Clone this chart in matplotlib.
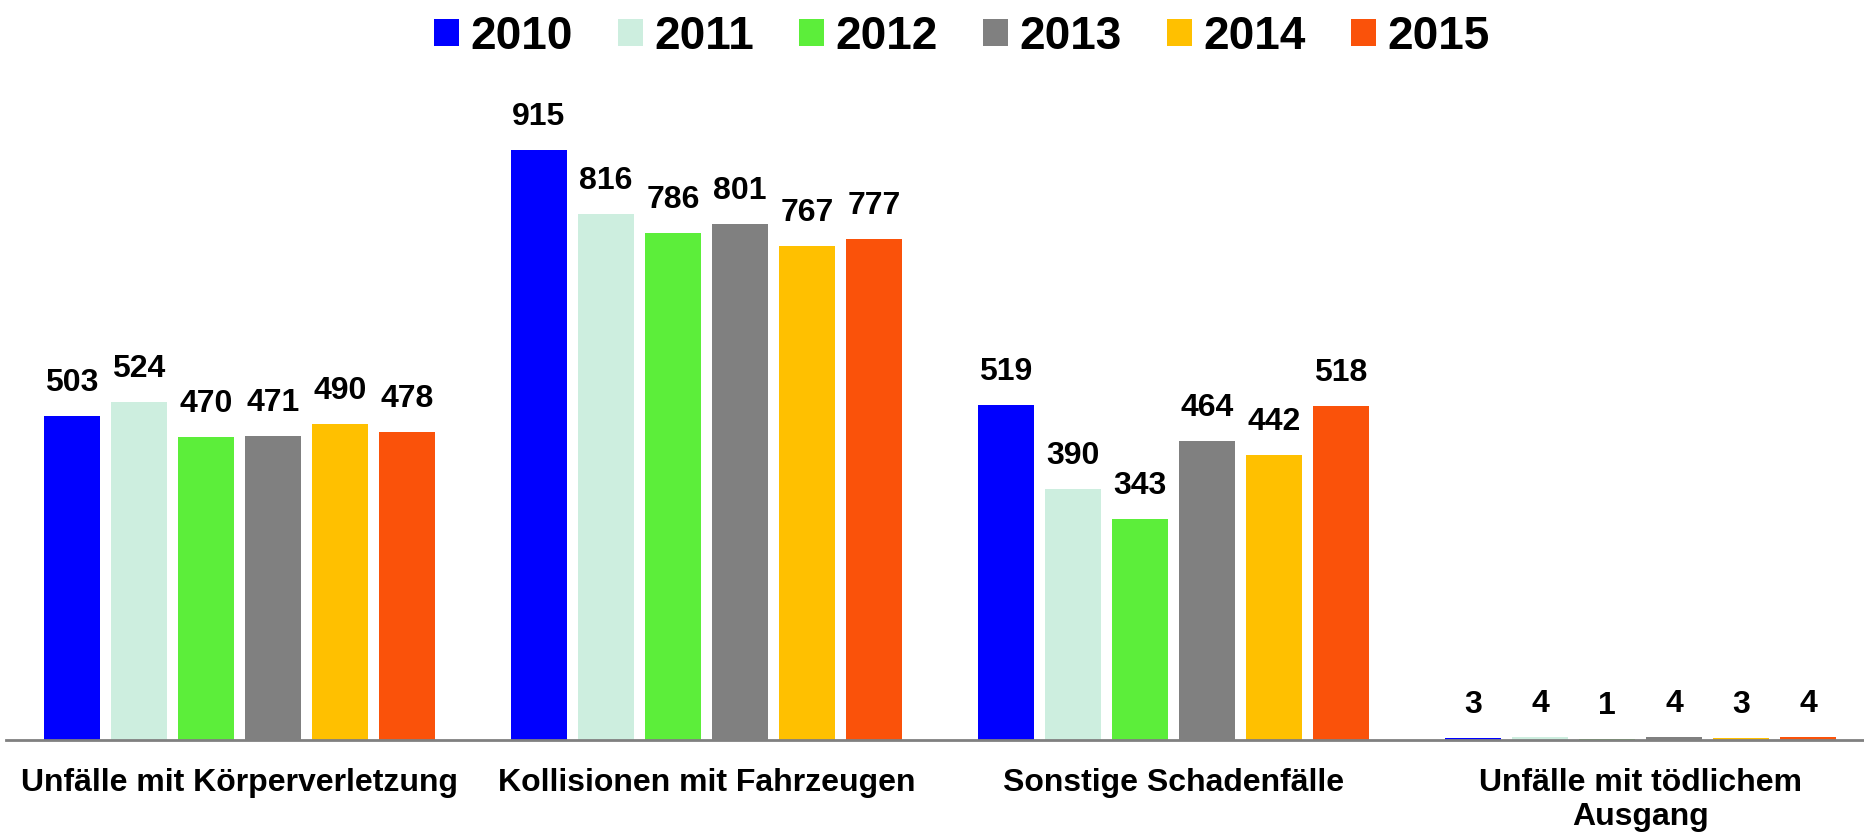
import numpy as np
import matplotlib.pyplot as plt

plt.rcParams['font.family'] = ['Liberation Sans', 'DejaVu Sans']
plt.rcParams['font.weight'] = 'bold'

categories = ["Unfälle mit Körperverletzung", "Kollisionen mit Fahrzeugen",
              "Sonstige Schadenfälle", "Unfälle mit tödlichem\nAusgang"]
years = ["2010", "2011", "2012", "2013", "2014", "2015"]
v2010 = [503, 915, 519, 3]
v2011 = [524, 816, 390, 4]
v2012 = [470, 786, 343, 1]
v2013 = [471, 801, 464, 4]
v2014 = [490, 767, 442, 3]
v2015 = [478, 777, 518, 4]
series = [v2010, v2011, v2012, v2013, v2014, v2015]
colors = ["#0000FF", "#CDEEDF", "#5CEE3A", "#808080", "#FFC000", "#FA520A"]

fig = plt.figure(figsize=(18.64, 8.34), dpi=100)
ax = fig.add_axes([6/1864, 94/834, 1868/1864, 660/834])

x = np.arange(len(categories))
step = 0.1435
width = 0.12
for i, (vals, yr, c) in enumerate(zip(series, years, colors)):
    pos = x + (i - 2.5) * step
    bars = ax.bar(pos, vals, width, color=c, label=yr)
    for b, v in zip(bars, vals):
        ax.annotate(str(v), (b.get_x() + b.get_width() / 2, v),
                    xytext=(0, 13), textcoords="offset points",
                    ha="center", va="bottom", fontsize=23, fontweight="bold")

ax.set_xlim(-0.5, 3.5)
ax.set_ylim(0, 1024)
ax.set_xticks(x)
ax.set_xticklabels(categories, fontsize=23, fontweight="bold")
ax.tick_params(axis="x", length=0, pad=20)
ax.set_yticks([])
for s in ["top", "right", "left"]:
    ax.spines[s].set_visible(False)
ax.spines["bottom"].set_color("#808080")
ax.spines["bottom"].set_linewidth(2)

fig.legend(loc="upper center", bbox_to_anchor=(0.516, 1.032), ncol=6,
           frameon=False, prop={"size": 33, "weight": "bold"},
           handlelength=0.55, handleheight=0.55, handletextpad=0.25,
           columnspacing=0.98)

fig.savefig("out.png", dpi=100)
